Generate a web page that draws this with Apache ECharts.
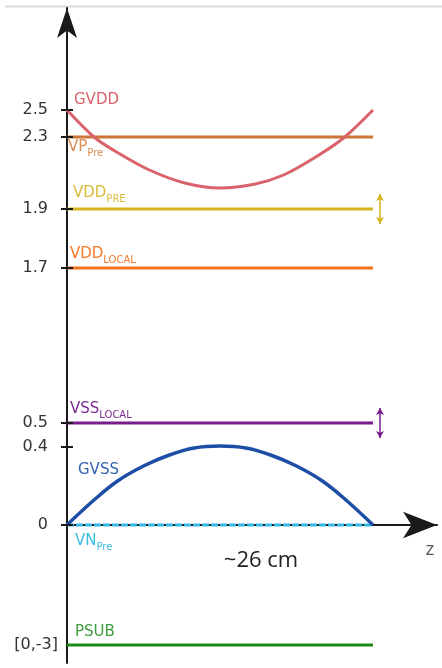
<!DOCTYPE html>
<html><head><meta charset="utf-8">
<script src="https://cdn.jsdelivr.net/npm/echarts@6/dist/echarts.min.js"></script>
<style>html,body{margin:0;padding:0;background:#fff}#c{width:442px;height:668px}</style>
</head><body><div id="c"></div>
<script>
// Schematic (non-linear) voltage axis: label text and the drawn level of each tick
const tickLabels  = ['2.5','2.3','1.9','1.7','0.5','0.4','0','[0,-3]'];
const tickHeights = [415, 388, 316, 257, 102, 78, 0, -120];
const lengthCm = 26;

// Curves (z in cm, value in schematic level units)
const zGVDD = [0, 2.4, 4.5, 7, 10, 13, 16, 18.4, 21, 23.5, 26];
const vGVDD = [415, 387, 371, 355, 342, 337, 341, 350, 367, 387, 415];
const zGVSS = [0, 2.2, 4.3, 6.5, 8.7, 10.8, 13, 15.2, 17.3, 19.5, 21.7, 23.8, 26];
const vGVSS = [0, 24, 44, 59, 70, 77, 79, 77, 70, 59, 44, 24, 0];

// Flat rails
const flatNames  = ['VP_Pre', 'VDD_PRE', 'VDD_LOCAL', 'VSS_LOCAL', 'VN_Pre', 'PSUB'];
const flatLevels = [388, 316, 257, 102, 0, -120];
// rails with adjustable range arrows
const rangeNames = ['VDD_PRE', 'VSS_LOCAL'];

const colors = {
  GVDD: '#d9626b', VP_Pre: '#cc7638', VDD_PRE: '#d4b31c', VDD_LOCAL: '#f4711c',
  VSS_LOCAL: '#781d8c', GVSS: '#1d4ea6', VN_Pre: '#33b6e3', PSUB: '#188a18'
};
const labelColors = {
  GVDD: '#d9626b', VP_Pre: '#d98d55', VDD_PRE: '#d9bc35', VDD_LOCAL: '#f47a2c',
  VSS_LOCAL: '#7e2b92', GVSS: '#3263b0', VN_Pre: '#3cbde6', PSUB: '#3d9c3d'
};

const FONT = 'DejaVu Sans';
const chart = echarts.init(document.getElementById('c'));

const series = [];
flatNames.forEach((n, i) => {
  series.push({
    name: n, type: 'line', showSymbol: false, silent: true, z: 3,
    data: [[0, flatLevels[i]], [lengthCm, flatLevels[i]]],
    lineStyle: { color: colors[n], width: 3, type: n === 'VN_Pre' ? [7, 2] : 'solid', cap: 'butt' }
  });
});
series.push({
  name: 'GVDD', type: 'line', smooth: 0.3, showSymbol: false, silent: true, z: 4,
  data: zGVDD.map((z, i) => [z, vGVDD[i]]),
  lineStyle: { color: colors.GVDD, width: 3 }
});
series.push({
  name: 'GVSS', type: 'line', smooth: 0.4, showSymbol: false, silent: true, z: 4,
  data: zGVSS.map((z, i) => [z, vGVSS[i]]),
  lineStyle: { color: colors.GVSS, width: 3.5 }
});
rangeNames.forEach(n => {
  const h = flatLevels[flatNames.indexOf(n)];
  series.push({
    type: 'line', data: [], silent: true,
    markLine: {
      silent: true, symbol: ['arrow', 'arrow'], symbolSize: [6, 7],
      label: { show: false },
      lineStyle: { color: colors[n], width: 1.5, type: 'solid' },
      data: [[{ coord: [lengthCm * 1.023, h + 15] }, { coord: [lengthCm * 1.023, h - 15] }]]
    }
  });
});

const axisColor = '#1a1a1a';
chart.setOption({
  animation: false,
  backgroundColor: '#fff',
  grid: { left: 67, right: 5, top: 8, bottom: 5 },
  xAxis: {
    type: 'value', min: 0, max: 31.44,
    axisLine: { show: true, onZero: true, symbol: ['none', 'arrow'], symbolSize: [20, 34],
      lineStyle: { color: axisColor, width: 2 } },
    axisTick: { show: false }, axisLabel: { show: false }, splitLine: { show: false }
  },
  yAxis: {
    type: 'value', min: -138, max: 517, position: 'left',
    axisLine: { show: true, onZero: false, symbol: ['none', 'arrow'], symbolSize: [15, 30],
      lineStyle: { color: axisColor, width: 2 } },
    axisTick: { show: true, customValues: tickHeights.slice(0, 7), length: 6,
      lineStyle: { color: axisColor, width: 2 } },
    axisLabel: {
      customValues: tickHeights, margin: 9,
      formatter: v => {
        const i = tickHeights.indexOf(v);
        if (i < 0) return '';
        return tickLabels[i].startsWith('[') ? '{b|' + tickLabels[i] + '}' : '{a|' + tickLabels[i] + '}';
      },
      rich: {
        a: { fontFamily: FONT, fontSize: 16, color: '#333', padding: [0, 10, 0, 0] },
        b: { fontFamily: FONT, fontSize: 16, color: '#333' }
      }
    },
    splitLine: { show: false }
  },
  series: series
});

// Labels anchored to data positions
const lvl = n => n === 'GVDD' ? vGVDD[0] : n === 'GVSS' ? 0 : flatLevels[flatNames.indexOf(n)];
const labelDefs = [
  { n: 'GVDD', main: 'GVDD', dx: 7, dy: -10 },
  { n: 'VP_Pre', main: 'VP', sub: 'Pre', dx: 1, dy: 11 },
  { n: 'VDD_PRE', main: 'VDD', sub: 'PRE', dx: 6, dy: -15 },
  { n: 'VDD_LOCAL', main: 'VDD', sub: 'LOCAL', dx: 3, dy: -13 },
  { n: 'VSS_LOCAL', main: 'VSS', sub: 'LOCAL', dx: 3, dy: -13 },
  { n: 'GVSS', main: 'GVSS', dx: 11, dy: -55 },
  { n: 'VN_Pre', main: 'VN', sub: 'Pre', dx: 8, dy: 17 },
  { n: 'PSUB', main: 'PSUB', dx: 8, dy: -13 }
];
const graphics = [{
  type: 'line', silent: true,
  shape: { x1: 5, y1: 6.5, x2: 442, y2: 6.5 },
  style: { stroke: '#d9d9d9', lineWidth: 2 }
}];
labelDefs.forEach(d => {
  const p = chart.convertToPixel({ gridIndex: 0 }, [0, lvl(d.n)]);
  const c = labelColors[d.n];
  if (d.sub) {
    graphics.push({
      type: 'text', silent: true, x: p[0] + d.dx, y: p[1] + d.dy - 8,
      style: {
        text: '{m|' + d.main + '}{s|' + d.sub + '}', verticalAlign: 'top', align: 'left', fill: c,
        rich: {
          m: { fontFamily: FONT, fontSize: 15, lineHeight: 16, fill: c, verticalAlign: 'top' },
          s: { fontFamily: FONT, fontSize: 10, lineHeight: 11, fill: c, verticalAlign: 'top', padding: [8, 0, 0, 0] }
        }
      }
    });
  } else {
    graphics.push({
      type: 'text', silent: true, x: p[0] + d.dx, y: p[1] + d.dy,
      style: { text: d.main, fontFamily: FONT, fontSize: 15, fill: c, verticalAlign: 'middle', align: 'left' }
    });
  }
});
// short tick marks crossing to the right of the vertical axis (drawn above the rails)
tickHeights.slice(0, 7).forEach(h => {
  const p = chart.convertToPixel({ gridIndex: 0 }, [0, h]);
  graphics.push({
    type: 'line', silent: true, z: 100,
    shape: { x1: p[0], y1: p[1], x2: p[0] + 6, y2: p[1] },
    style: { stroke: axisColor, lineWidth: 2 }
  });
});
const pz = chart.convertToPixel({ gridIndex: 0 }, [31.44, 0]);
graphics.push({
  type: 'text', silent: true, x: pz[0] - 7, y: pz[1] + 25,
  style: { text: 'z', fontFamily: 'Open Sans', fontSize: 19, fill: '#555', align: 'center', verticalAlign: 'middle' }
});
const pc = chart.convertToPixel({ gridIndex: 0 }, [lengthCm / 2, 0]);
graphics.push({
  type: 'text', silent: true, x: pc[0] + 41, y: pc[1] + 36,
  style: { text: '~' + lengthCm + ' cm', fontFamily: 'Open Sans', fontSize: 22, fill: '#222', align: 'center', verticalAlign: 'middle' }
});
chart.setOption({ graphic: graphics });
</script>
</body></html>
